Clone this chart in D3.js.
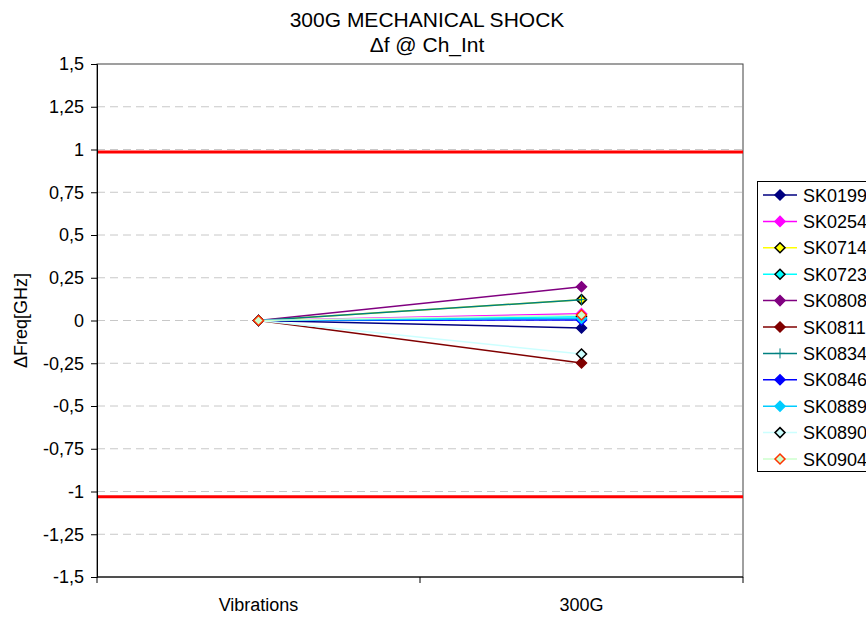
<!DOCTYPE html>
<html><head><meta charset="utf-8">
<script src="https://cdn.jsdelivr.net/npm/d3@7"></script>
<style>body{margin:0;background:#fff}svg{display:block}text{font-family:"Liberation Sans",Arial,sans-serif}</style>
</head><body>
<svg id="c" width="866" height="617"></svg>
<script>
const categories = ["Vibrations", "300G"];
const seriesNames = ["SK0199","SK0254","SK0714","SK0723","SK0808","SK0811","SK0834","SK0846","SK0889","SK0890","SK0904"];
const seriesValues = [
  [0, -0.044],
  [0, 0.04],
  [0, 0.122],
  [0, 0.022],
  [0, 0.197],
  [0, -0.248],
  [0, 0.122],
  [0, 0.003],
  [0, 0.013],
  [0, -0.196],
  [0, 0.032]
];
const lineColors = ["#000080","#ff00ff","#ffff00","#00ffff","#800080","#800000","#008080","#0000ff","#00ccff","#ccffff","#ccffcc"];
const markerFills = ["#000080","#ff00ff","#ffff00","#00ffff","#800080","#800000","none","#0000ff","#00ccff","#ccffff","#ccffcc"];
const markerStrokes = ["#000080","#ff00ff","#000000","#000000","#800080","#800000","#008080","#0000ff","#00ccff","#000000","#ff3300"];
const markerTypes = ["diamond","diamond","diamond","diamond","diamond","diamond","plus","diamond","diamond","diamond","diamond"];
const yTicks = [-1.5,-1.25,-1,-0.75,-0.5,-0.25,0,0.25,0.5,0.75,1,1.25,1.5];
const limitValues = [0.985, -1.03];
const title1 = "300G MECHANICAL SHOCK";
const title2 = "Δf @ Ch_Int";
const yLabel = "ΔFreq[GHz]";

const svg = d3.select("#c");
const L = 97, R = 743, T = 64, B = 577;
const y = d3.scaleLinear().domain([-1.5, 1.5]).range([B, T]);
const x = d3.scaleBand().domain(categories).range([L, R]);
const xc = c => x(c) + x.bandwidth() / 2;
const fmt = v => String(v).replace(".", ",");

// gridlines
svg.append("g").selectAll("line").data(yTicks.filter(v => v !== 1.5 && v !== -1.5)).join("line")
  .attr("x1", L).attr("x2", R).attr("y1", d => y(d)).attr("y2", d => y(d))
  .attr("stroke", "#c8c8c8").attr("stroke-width", 1).attr("stroke-dasharray", "8,5");

// plot border
svg.append("rect").attr("x", L).attr("y", T).attr("width", R - L).attr("height", B - T)
  .attr("fill", "none").attr("stroke", "#404040").attr("stroke-width", 1);

// limit lines
svg.append("g").selectAll("line").data(limitValues).join("line")
  .attr("x1", L).attr("x2", R).attr("y1", d => y(d)).attr("y2", d => y(d))
  .attr("stroke", "#ff0000").attr("stroke-width", 3);

// axes
const yAxis = d3.axisLeft(y).tickValues(yTicks).tickFormat(fmt).tickSize(6).tickPadding(7);
const gy = svg.append("g").attr("transform", `translate(${L},0)`).call(yAxis);
gy.attr("font-size", 18).attr("font-family", '"Liberation Sans",Arial,sans-serif');
gy.select(".domain").attr("stroke", "#000");
gy.selectAll(".tick line").attr("stroke", "#000");
gy.selectAll("text").attr("fill", "#000");

const gx = svg.append("g").attr("transform", `translate(0,${B})`);
gx.append("line").attr("x1", L).attr("x2", R).attr("stroke", "#000");
const xTickPos = [L, ...categories.slice(1).map(c => x(c)), R];
gx.selectAll(".xt").data(xTickPos).join("line").attr("class", "xt")
  .attr("x1", d => d).attr("x2", d => d).attr("y1", 0).attr("y2", 6).attr("stroke", "#000");
gx.selectAll(".xl").data(categories).join("text").attr("class", "xl")
  .attr("x", d => xc(d)).attr("y", 34).attr("text-anchor", "middle").attr("font-size", 18).text(d => d);

// titles
svg.append("text").attr("x", 427).attr("y", 27).attr("text-anchor", "middle").attr("font-size", 21).text(title1);
svg.append("text").attr("x", 427).attr("y", 52).attr("text-anchor", "middle").attr("font-size", 21).text(title2);
svg.append("text").attr("transform", `translate(27,${(T + B) / 2}) rotate(-90)`)
  .attr("text-anchor", "middle").attr("font-size", 18).text(yLabel);

function drawMarker(g, type, cx, cy, fill, stroke, s) {
  if (type === "plus") {
    g.append("path").attr("d", `M${cx - s},${cy}H${cx + s}M${cx},${cy - s}V${cy + s}`)
      .attr("stroke", stroke).attr("stroke-width", 1).attr("fill", "none");
  } else {
    g.append("path").attr("d", `M${cx},${cy - s}L${cx + s},${cy}L${cx},${cy + s}L${cx - s},${cy}Z`)
      .attr("fill", fill).attr("stroke", stroke).attr("stroke-width", 1.5);
  }
}

// series
const line = d3.line().x((d, i) => xc(categories[i])).y(d => y(d));
seriesNames.forEach((n, si) => {
  const g = svg.append("g");
  g.append("path").attr("d", line(seriesValues[si])).attr("fill", "none")
    .attr("stroke", lineColors[si]).attr("stroke-width", 1.5);
  seriesValues[si].forEach((v, i) => drawMarker(g, markerTypes[si], xc(categories[i]), y(v), markerFills[si], markerStrokes[si], 5));
});

// legend
const lg = svg.append("g");
lg.append("rect").attr("x", 757.5).attr("y", 181.5).attr("width", 120).attr("height", 290)
  .attr("fill", "#fff").attr("stroke", "#000");
seriesNames.forEach((n, si) => {
  const cy = 195 + si * 26.4;
  lg.append("line").attr("x1", 763).attr("x2", 797).attr("y1", cy).attr("y2", cy)
    .attr("stroke", lineColors[si]).attr("stroke-width", 1.5);
  drawMarker(lg, markerTypes[si], 780, cy, markerFills[si], markerStrokes[si], 5);
  lg.append("text").attr("x", 803).attr("y", cy + 6.5).attr("font-size", 18).text(n);
});
</script>
</body></html>
